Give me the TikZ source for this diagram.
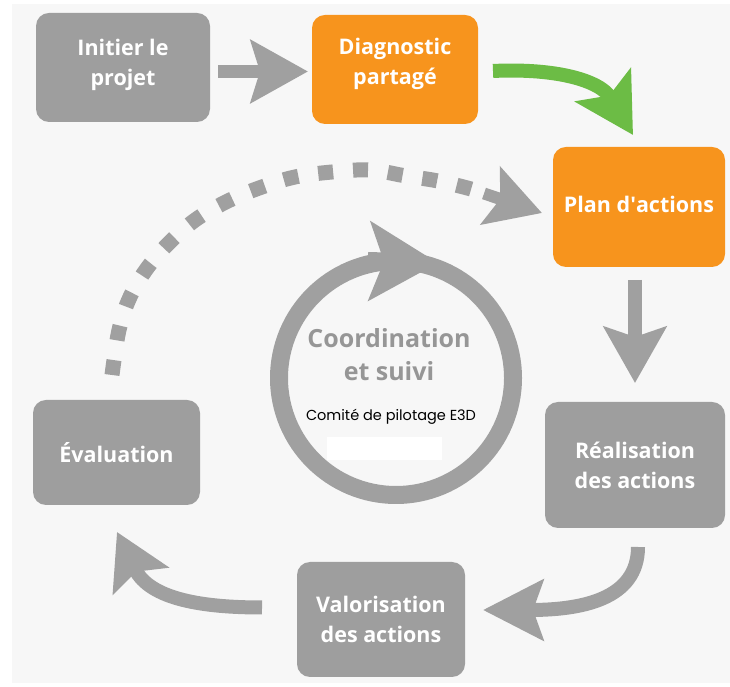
\documentclass[tikz,border=0pt]{standalone}
\usepackage{fontspec}
\setmainfont{Open Sans}
\newfontfamily\geofont{Poppins}
\usetikzlibrary{arrows.meta,calc}
\definecolor{boxgray}{RGB}{158,158,158}
\definecolor{boxorange}{RGB}{247,148,29}
\definecolor{arrgray}{RGB}{160,160,160}
\definecolor{arrgreen}{RGB}{108,188,69}
\definecolor{bggray}{RGB}{247,247,247}
\definecolor{txtgray}{RGB}{150,150,150}
\begin{document}
\begin{tikzpicture}[x=1pt,y=1pt,
  box/.style={rounded corners=13pt, inner sep=0pt, align=center, text=white,
    font=\bfseries\fontsize{21.5}{30}\selectfont},
  graybox/.style={box, fill=boxgray},
  orangebox/.style={box, fill=boxorange},
  fat/.style={line width=14pt, draw=arrgray},
  bighead/.style={-{Stealth[length=56pt,width=62pt,inset=10pt]}}]
\useasboundingbox (0,0) rectangle (730,687);
\fill[white] (0,0) rectangle (730,687);
\fill[bggray] (12,4) rectangle (730,683);

% boxes
\node[graybox, minimum width=174pt, minimum height=109pt, text depth=11pt] (init) at (123,619.5) {Initier le\\projet};
\node[orangebox, minimum width=166pt, minimum height=109pt, text depth=16pt] (diag) at (395,617.5) {Diagnostic\\partagé};
\node[orangebox, minimum width=172pt, minimum height=120pt, text depth=6pt] (plan) at (639,480) {Plan d\textquotesingle actions};
\node[graybox, minimum width=180pt, minimum height=126pt] (real) at (635,222) {Réalisation\\des actions};
\node[graybox, minimum width=168pt, minimum height=115pt] (valo) at (381,67.5) {Valorisation\\des actions};
\node[graybox, minimum width=167pt, minimum height=105pt] (eval) at (116.5,234.5) {Évaluation};

% arrow end points
\coordinate (a1s) at (218,615.5);
\coordinate (a1e) at (308,615.5);
\coordinate (a2s) at (493,616);
\coordinate (a2e) at (633,552);
\coordinate (a3s) at (635,407);
\coordinate (a3e) at (635,304);
\coordinate (a4s) at (638,140);
\coordinate (a4e) at (483,77);
\coordinate (a5s) at (262,79.5);
\coordinate (a5e) at (117,155);
\coordinate (dsA) at (112,312);
\coordinate (dsB) at (487,492.5);
\coordinate (dtip) at (542,474);

% straight / curved arrows
\draw[fat, line width=13pt, -{Stealth[length=57pt,width=62pt,inset=9pt]}] (a1s) -- (a1e);
\draw[line width=14pt, draw=arrgreen, -{Stealth[length=58pt,width=64pt,inset=12pt]}]
  (a2s) .. controls (555,619) and (600,607) .. (a2e);
\draw[fat, bighead] (a3s) -- (a3e);
\draw[fat, -{Stealth[length=60pt,width=60pt,inset=10pt]}]
  (a4s) .. controls (638,87) and (580,77) .. (a4e);
\draw[fat, -{Stealth[length=54pt,width=61pt,inset=10pt]}]
  (a5s) .. controls (205,79.5) and (150,87) .. (a5e);

% dashed feedback arrow
\draw[draw=arrgray, line width=15pt, dash pattern=on 15pt off 20pt]
  plot[smooth, tension=0.6] coordinates {(dsA) (119,357) (130,390) (148,420) (172,447) (198,469)
   (230,487) (262,500) (295,510) (332,515) (370,517) (406,511) (438,506) (471,498) (dsB)};
\draw[draw=arrgray, line width=12pt, -{Stealth[length=54pt,width=60pt,inset=10pt]}] (484,493.5) -- (dtip);

% central cycle
\coordinate (ctr) at (396,309);
\draw[draw=arrgray, line width=18pt] (ctr) circle (117pt);
\coordinate (rhb) at (368,426);
\coordinate (rht) at (438,424);
\draw[draw=arrgray, line width=18pt, -{Stealth[length=68pt,width=78pt,inset=14pt]}] (rhb) -- (rht);

\node[font=\bfseries\fontsize{25}{33}\selectfont, text=txtgray, align=center] (coord) at (389,332) {Coordination\\et suivi};
\node[font=\geofont\fontsize{14.5}{16}\selectfont, text=black] (comite) at (391,270) {Comité de pilotage E3D};
\node[fill=white, minimum width=115pt, minimum height=23pt, inner sep=0pt] (blank) at (384.5,238.5) {};
\end{tikzpicture}
\end{document}
